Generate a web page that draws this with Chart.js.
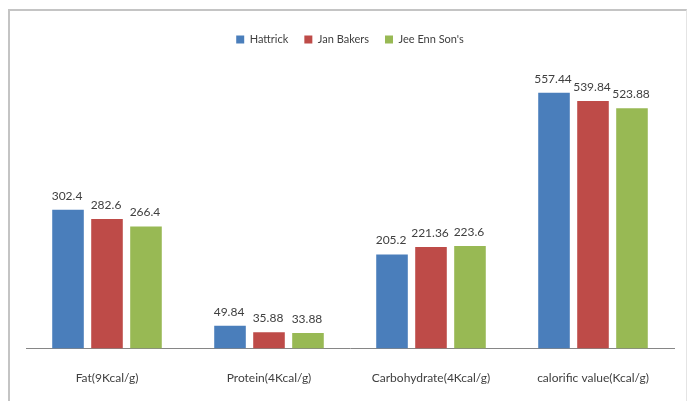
<!DOCTYPE html>
<html>
<head>
<meta charset="utf-8">
<script src="https://cdn.jsdelivr.net/npm/chart.js@4.4.1/dist/chart.umd.min.js"></script>
<style>
html,body{margin:0;padding:0;background:#fff;overflow:hidden;width:688px;height:401px;}
#frame{position:absolute;left:8px;top:9px;width:676px;height:400px;border-top:2px solid #c4c4c4;border-left:2px solid #c4c4c4;border-right:1px solid #e4e4e4;}
#wrap{position:absolute;left:0;top:0;width:688px;height:413px;}
</style>
</head>
<body>
<div id="frame"></div>
<div id="wrap"><canvas id="c" width="688" height="413"></canvas></div>
<script>
const categories = ["Fat(9Kcal/g)", "Protein(4Kcal/g)", "Carbohydrate(4Kcal/g)", "calorific value(Kcal/g)"];
const hattrick = [302.4, 49.84, 205.2, 557.44];
const janBakers = [282.6, 35.88, 221.36, 539.84];
const jeeEnnSons = [266.4, 33.88, 223.6, 523.88];
const seriesNames = ["Hattrick", "Jan Bakers", "Jee Enn Son's"];
const seriesColors = ["#4a7ebb", "#be4b48", "#98b954"];

const labelPlugin = {
  id: 'valueLabels',
  afterDatasetsDraw(chart) {
    const ctx = chart.ctx;
    ctx.save();
    ctx.font = '12px Lato, "Open Sans", sans-serif';
    ctx.fillStyle = '#404040';
    ctx.textAlign = 'center';
    ctx.textBaseline = 'bottom';
    chart.data.datasets.forEach((ds, i) => {
      const meta = chart.getDatasetMeta(i);
      meta.data.forEach((bar, j) => {
        ctx.fillText(String(ds.data[j]), bar.x - 1, bar.y - 8);
      });
    });
    ctx.restore();
  }
};

new Chart(document.getElementById('c'), {
  type: 'bar',
  data: {
    labels: categories,
    datasets: [
      {label: seriesNames[0], data: hattrick, backgroundColor: seriesColors[0]},
      {label: seriesNames[1], data: janBakers, backgroundColor: seriesColors[1]},
      {label: seriesNames[2], data: jeeEnnSons, backgroundColor: seriesColors[2]}
    ]
  },
  options: {
    responsive: false,
    animation: false,
    devicePixelRatio: 1,
    layout: {padding: {left: 26, right: 14, top: 18, bottom: 6}},
    datasets: {bar: {categoryPercentage: 0.722, barPercentage: 0.81}},
    plugins: {
      legend: {
        position: 'top',
        labels: {
          boxWidth: 8, boxHeight: 8, padding: 16,
          color: '#404040',
          font: {family: 'Lato, "Open Sans", sans-serif', size: 11}
        }
      },
      tooltip: {enabled: false}
    },
    scales: {
      x: {
        grid: {display: false, drawTicks: false},
        border: {display: true, color: '#868686', width: 1},
        ticks: {color: '#404040', padding: 22, font: {family: 'Lato, "Open Sans", sans-serif', size: 12}}
      },
      y: {
        display: false,
        min: 0, max: 640
      }
    }
  },
  plugins: [labelPlugin]
});
</script>
</body>
</html>
